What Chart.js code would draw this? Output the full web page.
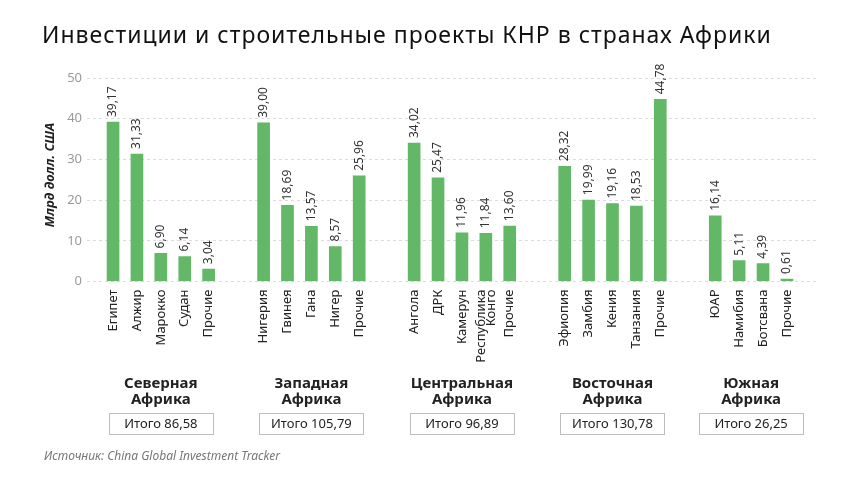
<!DOCTYPE html>
<html>
<head>
<meta charset="utf-8">
<script src="https://cdn.jsdelivr.net/npm/chart.js@4/dist/chart.umd.min.js"></script>
<style>
  html, body { margin: 0; padding: 0; background: #fff; }
  #wrap { width: 860px; height: 484px; position: relative; }
  canvas { display: block; }
</style>
</head>
<body>
<div id="wrap"><canvas id="c" width="860" height="484"></canvas></div>
<script>
// ---- Data ----
const categories = [
  'Египет', 'Алжир', 'Марокко', 'Судан', 'Прочие',
  'Нигерия', 'Гвинея', 'Гана', 'Нигер', 'Прочие',
  'Ангола', 'ДРК', 'Камерун', ['Республика', 'Конго'], 'Прочие',
  'Эфиопия', 'Замбия', 'Кения', 'Танзания', 'Прочие',
  'ЮАР', 'Намибия', 'Ботсвана', 'Прочие'
];
const values = [
  39.17, 31.33, 6.90, 6.14, 3.04,
  39.00, 18.69, 13.57, 8.57, 25.96,
  34.02, 25.47, 11.96, 11.84, 13.60,
  28.32, 19.99, 19.16, 18.53, 44.78,
  16.14, 5.11, 4.39, 0.61
];
const groupSizes = [5, 5, 5, 5, 4];
const regionNames = [
  ['Северная', 'Африка'],
  ['Западная', 'Африка'],
  ['Центральная', 'Африка'],
  ['Восточная', 'Африка'],
  ['Южная', 'Африка']
];
const regionTotals = [86.58, 105.79, 96.89, 130.78, 26.25];
const yTicks = [0, 10, 20, 30, 40, 50];

const titleText = 'Инвестиции и строительные проекты КНР в странах Африки';
const yTitle = 'Млрд долл. США';
const sourceText = 'Источник: China Global Investment Tracker';

// ---- positions along x (group gap) ----
const GROUP_STEP = 6.3;
const xs = [];
const groupCenters = [];
groupSizes.forEach((n, g) => {
  for (let i = 0; i < n; i++) xs.push(g * GROUP_STEP + i);
  groupCenters.push(g * GROUP_STEP + (n - 1) / 2);
});
const points = values.map((v, i) => ({ x: xs[i], y: v }));

const fmt = v => v.toFixed(2).replace('.', ',');
const FONT = "'Noto Sans', sans-serif";
const TICK_LINE_H = 0.75;

const decorPlugin = {
  id: 'decor',
  afterDatasetsDraw(chart) {
    const ctx = chart.ctx;
    const meta = chart.getDatasetMeta(0);
    ctx.save();
    ctx.fillStyle = '#333';
    ctx.font = '12px ' + FONT;
    meta.data.forEach((bar, i) => {
      ctx.save();
      ctx.translate(bar.x, bar.y - 5);
      ctx.rotate(-Math.PI / 2);
      ctx.textAlign = 'left';
      ctx.textBaseline = 'middle';
      ctx.fillText(fmt(values[i]), 0, 0);
      ctx.restore();
    });
    ctx.restore();
  },
  afterDraw(chart) {
    const ctx = chart.ctx;
    const xScale = chart.scales.x;
    ctx.save();
    // title
    ctx.fillStyle = '#111';
    ctx.font = '23px ' + FONT;
    ctx.letterSpacing = '1px';
    ctx.textAlign = 'left';
    ctx.textBaseline = 'middle';
    ctx.fillText(titleText, 42, 36);
    ctx.letterSpacing = '0px';
    // y title
    ctx.save();
    ctx.translate(50, 175);
    ctx.rotate(-Math.PI / 2);
    ctx.font = 'italic bold 13px ' + FONT;
    ctx.textAlign = 'center';
    ctx.fillStyle = '#222';
    ctx.fillText(yTitle, 0, 0);
    ctx.restore();
    // regions
    groupCenters.forEach((c, g) => {
      const px = xScale.getPixelForValue(c);
      ctx.fillStyle = '#222';
      ctx.font = 'bold 15px ' + FONT;
      ctx.textAlign = 'center';
      ctx.textBaseline = 'middle';
      regionNames[g].forEach((line, k) => ctx.fillText(line, px, 384 + k * 16));
      ctx.strokeStyle = '#bdbdbd';
      ctx.lineWidth = 1;
      ctx.strokeRect(Math.round(px - 52) + 0.5, 413.5, 104, 21);
      ctx.font = '13px ' + FONT;
      ctx.fillText('Итого ' + fmt(regionTotals[g]), px, 424.5);
    });
    // source
    ctx.fillStyle = '#777';
    ctx.font = 'italic 12px ' + FONT;
    ctx.textAlign = 'left';
    ctx.fillText(sourceText, 44, 457);
    ctx.restore();
  }
};

new Chart(document.getElementById('c'), {
  type: 'bar',
  data: {
    datasets: [{
      data: points,
      backgroundColor: '#62b866',
      barThickness: 12
    }]
  },
  options: {
    responsive: false,
    animation: false,
    devicePixelRatio: 1,
    layout: { padding: { top: 78, left: 0, right: 42, bottom: 102.5 } },
    plugins: { legend: { display: false }, tooltip: { enabled: false }, title: { display: false } },
    scales: {
      x: {
        type: 'linear',
        offset: false,
        min: -1.09,
        max: 29.5,
        grid: { display: false },
        border: { display: false },
        afterBuildTicks: s => {
          // multi-line labels: shift the tick so the block of lines is centred on the bar
          s.ticks = xs.map((v, i) => {
            const lines = Array.isArray(categories[i]) ? categories[i].length : 1;
            return { value: v - (lines - 1) * 0.2 };
          });
        },
        afterFit: s => { s.height = 100; },
        ticks: {
          autoSkip: false,
          minRotation: 90,
          maxRotation: 90,
          padding: 0,
          color: '#222',
          font: { size: 13, family: FONT, lineHeight: TICK_LINE_H },
          callback: (v, i) => categories[i]
        }
      },
      y: {
        min: 0,
        max: 50,
        afterBuildTicks: s => { s.ticks = yTicks.map(v => ({ value: v })); },
        afterFit: s => { s.width = 87; },
        grid: { color: '#dcdcdc', drawTicks: false, lineWidth: 1 },
        border: { display: false, dash: [3, 3] },
        ticks: { color: '#9a9a9a', padding: 5, font: { size: 13, family: FONT } }
      }
    }
  },
  plugins: [decorPlugin]
});
</script>
</body>
</html>
